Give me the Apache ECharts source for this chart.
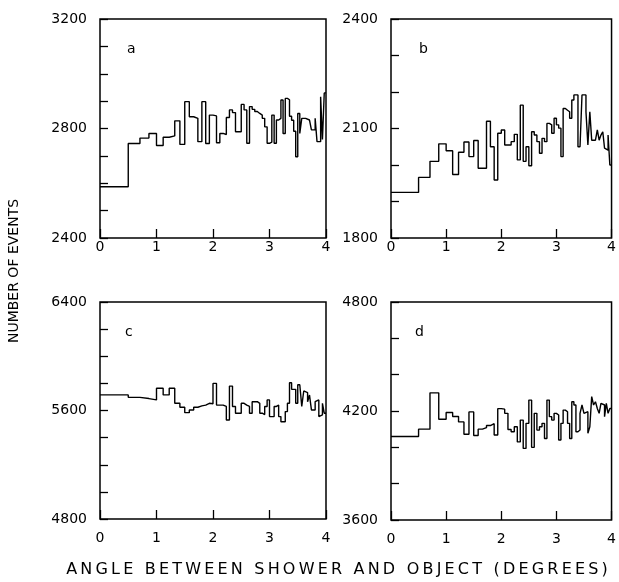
<!DOCTYPE html>
<html>
<head>
<meta charset="utf-8">
<script src="https://cdn.jsdelivr.net/npm/echarts@6/dist/echarts.min.js"></script>
<style>
html, body { margin: 0; padding: 0; background: #fff; }
#chart { width: 619px; height: 582px; }
</style>
</head>
<body>
<div id="chart"></div>
<script>
// bin edges (equal solid angle bins, degrees)
var binEdges = [0, 0.5, 0.707, 0.866, 1, 1.118, 1.225, 1.323, 1.414, 1.5,
    1.581, 1.658, 1.732, 1.803, 1.871, 1.936, 2, 2.062, 2.121, 2.179,
    2.236, 2.291, 2.345, 2.398, 2.449, 2.5, 2.550, 2.598, 2.646, 2.693,
    2.739, 2.784, 2.828, 2.872, 2.915, 2.958, 3, 3.041, 3.082, 3.122,
    3.162, 3.202, 3.240, 3.279, 3.317, 3.354, 3.391, 3.428, 3.464, 3.5,
    3.536, 3.571, 3.606, 3.640, 3.674, 3.708, 3.742, 3.775, 3.808, 3.841,
    3.873, 3.905, 3.937, 3.969, 4];

var countsA = [2587, 2745, 2765, 2782, 2738, 2768, 2773, 2828, 2742, 2898,
    2843, 2837, 2752, 2898, 2745, 2849, 2846, 2748, 2782, 2778,
    2840, 2868, 2858, 2788, 2788, 2888, 2868, 2746, 2880, 2870,
    2862, 2855, 2849, 2837, 2806, 2746, 2750, 2849, 2746, 2831,
    2837, 2904, 2782, 2910, 2905, 2845, 2830, 2790, 2697, 2855,
    2782, 2837, 2837, 2843, 2831, 2833, 2795, 2795, 2837, 2752,
    2752, 2916, 2760, 2930];

var countsB = [1925, 1966, 2010, 2058, 2039, 1974, 2035, 2063, 2023, 2067,
    1991, 1991, 2120, 2050, 1959, 2087, 2096, 2055, 2055, 2064,
    2084, 2014, 2164, 2010, 2050, 1998, 2091, 2082, 2064, 2032,
    2073, 2064, 2114, 2110, 2087, 2128, 2110, 2101, 2023, 2155,
    2150, 2146, 2128, 2178, 2192, 2192, 2050, 2050, 2192, 2192,
    2146, 2055, 2146, 2068, 2068, 2073, 2096, 2068, 2082, 2091,
    2046, 2041, 2082, 2000];

var countsC = [5715, 5697, 5688, 5678, 5764, 5715, 5764, 5653, 5624, 5584,
    5604, 5624, 5634, 5640, 5653, 5650, 5800, 5640, 5640, 5630,
    5530, 5780, 5630, 5580, 5580, 5653, 5640, 5630, 5580, 5665,
    5665, 5653, 5580, 5570, 5630, 5678, 5555, 5555, 5630, 5640,
    5555, 5517, 5517, 5592, 5653, 5805, 5756, 5756, 5653, 5790,
    5790, 5630, 5744, 5732, 5665, 5714, 5604, 5604, 5665, 5678,
    5555, 5568, 5653, 5580];

var countsD = [4060, 4100, 4300, 4155, 4192, 4170, 4140, 4072, 4195, 4065,
    4100, 4108, 4120, 4130, 4068, 4213, 4210, 4187, 4098, 4086,
    4113, 4030, 4150, 3994, 4132, 4260, 4000, 4187, 4095, 4113,
    4132, 4049, 4260, 4169, 4150, 4187, 4178, 4040, 4132, 4205,
    4196, 4132, 4049, 4251, 4233, 4086, 4095, 4187, 4233, 4187,
    4196, 4077, 4113, 4279, 4233, 4251, 4214, 4187, 4242, 4233,
    4169, 4242, 4187, 4214];

// labelled y values and minor tick step per panel
var yLabelsA = [2400, 2800, 3200];
var yLabelsB = [1800, 2100, 2400];
var yLabelsC = [4800, 5600, 6400];
var yLabelsD = [3600, 4200, 4800];
var yStep = [100, 100, 200, 200];
var panelNames = ['a', 'b', 'c', 'd'];

var chart = echarts.init(document.getElementById('chart'));

var font = 'DejaVu Sans';
var grids = [
    { left: 100, top: 19, width: 226, height: 219 },
    { left: 391, top: 19, width: 226, height: 219 },
    { left: 100, top: 302, width: 226, height: 217 },
    { left: 391, top: 302, width: 226, height: 218 }
];
var yLabels = [yLabelsA, yLabelsB, yLabelsC, yLabelsD];
var counts = [countsA, countsB, countsC, countsD];

function stepData(vals) {
    var pts = vals.map(function (v, i) { return [binEdges[i], v]; });
    pts.push([binEdges[binEdges.length - 1], vals[vals.length - 1]]);
    return pts;
}

var option = {
    animation: false,
    grid: grids.map(function (g) {
        return Object.assign({ show: true, borderColor: '#000', borderWidth: 1.5 }, g);
    }),
    xAxis: grids.map(function (g, i) {
        return {
            type: 'value', gridIndex: i, min: 0, max: 4, interval: 1,
            axisLine: { show: false },
            axisTick: { inside: true, length: 9, lineStyle: { color: '#000', width: 1.3 } },
            splitLine: { show: false },
            axisLabel: {
                color: '#000', fontFamily: font, fontSize: 14,
                margin: i < 2 ? 2 : 12, showMinLabel: true, showMaxLabel: true
            }
        };
    }),
    yAxis: grids.map(function (g, i) {
        var labs = yLabels[i];
        return {
            type: 'value', gridIndex: i,
            min: labs[0], max: labs[labs.length - 1], interval: yStep[i],
            axisLine: { show: false },
            axisTick: { inside: true, length: 8, lineStyle: { color: '#000', width: 1.3 } },
            splitLine: { show: false },
            axisLabel: {
                color: '#000', fontFamily: font, fontSize: 14, margin: 13,
                showMinLabel: true, showMaxLabel: true,
                formatter: function (v) { return labs.indexOf(v) >= 0 ? String(v) : ''; }
            }
        };
    }),
    series: counts.map(function (c, i) {
        return {
            type: 'line', step: 'end', xAxisIndex: i, yAxisIndex: i,
            symbol: 'none', data: stepData(c),
            lineStyle: { color: '#000', width: 1.4 }
        };
    }),
    graphic: [
        { type: 'text', x: 127, y: 42, style: { text: 'a', fill: '#000', fontSize: 14, fontFamily: font } },
        { type: 'text', x: 419, y: 42, style: { text: 'b', fill: '#000', fontSize: 14, fontFamily: font } },
        { type: 'text', x: 125, y: 325, style: { text: 'c', fill: '#000', fontSize: 14, fontFamily: font } },
        { type: 'text', x: 415, y: 325, style: { text: 'd', fill: '#000', fontSize: 14, fontFamily: font } },
        {
            type: 'text', x: 14, y: 271, rotation: Math.PI / 2,
            style: {
                text: 'NUMBER OF EVENTS', fill: '#000', fontSize: 14, fontFamily: font,
                align: 'center', verticalAlign: 'middle'
            }
        },
        {
            type: 'text', x: 337, y: 570,
            style: {
                text: 'ANGLE BETWEEN SHOWER AND OBJECT (DEGREES)'.split('').join('\u2009'),
                fill: '#000', fontSize: 16, fontFamily: font,
                align: 'center', verticalAlign: 'middle'
            }
        }
    ]
};

chart.setOption(option);
</script>
</body>
</html>
